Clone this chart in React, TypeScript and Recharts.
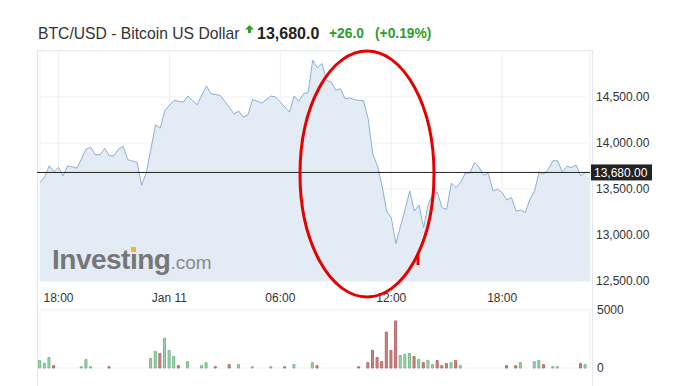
import React from 'react'
import {
  ComposedChart,
  Area,
  XAxis,
  YAxis,
  CartesianGrid,
  ReferenceLine,
  BarChart,
  Bar,
  Cell,
} from 'recharts'

const FONT = '"Liberation Sans", Arial, sans-serif'
const GREEN = '#2d9d2d'

// hours counted from Jan 10 00:00 (15 minute bars)
const priceHours = [
  17, 17.25, 17.5, 17.75, 18, 18.25, 18.5, 19, 19.5, 19.75, 20, 20.25, 20.5, 20.75, 21, 21.25,
  21.5, 21.75, 22.25, 22.5, 22.75, 23, 23.25, 23.5, 23.75, 24.25, 24.75, 25, 25.5, 26, 26.25,
  26.75, 27.5, 27.75, 28, 28.25, 28.5, 29, 29.5, 29.75, 30.5, 30.75, 31, 31.25, 31.5, 31.75, 32,
  32.25, 32.5, 32.75, 33, 33.25, 33.5, 33.75, 34, 34.25, 34.5, 34.75, 35, 35.25, 35.5, 35.75, 36,
  36.25, 36.5, 36.75, 37, 37.25, 37.5, 37.75, 38, 38.25, 38.5, 38.75, 39, 39.25, 39.5, 39.75, 40,
  40.25, 40.5, 40.75, 41, 41.25, 41.5, 41.75, 42, 42.25, 42.5, 42.75, 43, 43.25, 43.5, 43.75, 44,
  44.25, 44.5, 44.75, 45, 45.25, 45.5, 45.75, 46, 46.25, 46.5, 46.75,
]
const priceValues = [
  13571, 13629, 13752, 13687, 13735, 13643, 13752, 13727, 13935, 13953, 13872, 13872, 13942, 13861,
  13861, 13935, 13964, 13818, 13789, 13541, 13680, 13935, 14197, 14161, 14353, 14463, 14445, 14511,
  14416, 14620, 14536, 14517, 14317, 14347, 14281, 14306, 14474, 14434, 14511, 14500, 14336, 14511,
  14452, 14536, 14547, 14900, 14817, 14864, 14681, 14664, 14572, 14590, 14481, 14489, 14473, 14463,
  14459, 14263, 13880, 13752, 13534, 13260, 13188, 12907, 13096, 13279, 13479, 13260, 13326, 13079,
  13334, 13454, 13461, 13297, 13279, 13563, 13516, 13571, 13672, 13672, 13789, 13735, 13650, 13672,
  13479, 13497, 13461, 13380, 13407, 13260, 13271, 13243, 13388, 13479, 13687, 13661, 13716, 13807,
  13807, 13687, 13746, 13735, 13760, 13643, 13680, 13680,
]

const volumeHours = [
  17, 17.25, 17.5, 17.75, 19.25, 19.5, 19.75, 20.75, 23, 23.25, 23.5, 23.75, 24, 24.25, 24.5, 25,
  25.75, 26, 26.5, 27.25, 27.75, 28.5, 29.5, 30.25, 30.75, 31.75, 32, 34.25, 34.75, 35, 35.25, 35.5,
  35.75, 36, 36.25, 36.5, 36.75, 37, 37.25, 37.5, 37.75, 38, 38.25, 38.5, 38.75, 39, 39.25, 39.5,
  39.75, 42.25, 42.75, 43, 43.75, 44, 44.25, 44.75, 45, 46.25, 46.5,
]
const volumeValues = [
  640, 410, 900, 200, 110, 730, 110, 110, 820, 1430, 1250, 2570, 1520, 990, 200, 550, 200, 460, 110,
  290, 290, 110, 110, 110, 290, 460, 200, 110, 460, 1520, 900, 550, 3100, 1520, 4060, 1080, 1170,
  1250, 990, 730, 460, 640, 290, 640, 200, 380, 460, 640, 200, 200, 200, 460, 550, 640, 290, 110,
  110, 380, 290,
]
const volumeUp = [
  1, 1, 1, 0, 1, 1, 1, 0, 1, 1, 0, 1, 1, 1, 0, 1, 1, 1, 0, 0, 1, 1, 1, 0, 1, 1, 0, 0, 0, 0, 0, 0, 0,
  0, 0, 1, 1, 1, 0, 1, 0, 1, 1, 0, 0, 0, 1, 0, 1, 0, 0, 1, 1, 1, 0, 1, 1, 0, 1,
]

const timeTicks = [18, 24, 30, 36, 42]
const timeLabels = ['18:00', 'Jan 11', '06:00', '12:00', '18:00']
const priceTicks = [12500, 13000, 13500, 14000, 14500]
const volumeTicks = [0, 5000]
const lastPrice = 13680

const priceData = priceHours.map((t, i) => ({ t, price: priceValues[i] }))
const volumeData = volumeHours.map((t, i) => ({ t, vol: volumeValues[i], up: volumeUp[i] === 1 }))

const fmtPrice = (v: number) =>
  v.toLocaleString('en-US', { minimumFractionDigits: 2, maximumFractionDigits: 2 })
const fmtTime = (v: number) => timeLabels[timeTicks.indexOf(v)] ?? ''

const tickStyle = { fontSize: 12, fill: '#333', fontFamily: FONT }

function PriceTag(props: any) {
  const vb = props.viewBox || {}
  const right = vb.x + vb.width
  return (
    <g>
      <line x1={vb.x - 3} x2={vb.x} y1={vb.y} y2={vb.y} stroke="#222" />
      <rect x={right + 1} y={vb.y - 8} width={61} height={16} fill="#222" />
      <text x={right + 4} y={vb.y + 4.5} fill="#fff" fontSize={12} fontFamily={FONT}>
        {fmtPrice(lastPrice)}
      </text>
    </g>
  )
}

function Header() {
  const base = { position: 'absolute' as const, lineHeight: 1, whiteSpace: 'nowrap' as const }
  return (
    <>
      <span style={{ ...base, left: 38, top: 25.7, fontSize: 15.7, color: '#333' }}>
        BTC/USD - Bitcoin US Dollar
      </span>
      <svg style={{ position: 'absolute', left: 245, top: 25 }} width={9} height={8}>
        <polygon points="4.5,0 9,4.5 6,4.5 6,8 3,8 3,4.5 0,4.5" fill={GREEN} />
      </svg>
      <span style={{ ...base, left: 257, top: 25.5, fontSize: 16, fontWeight: 'bold', color: '#222' }}>
        13,680.0
      </span>
      <span style={{ ...base, left: 329, top: 27.3, fontSize: 13.8, fontWeight: 'bold', color: GREEN }}>
        +26.0
      </span>
      <span style={{ ...base, left: 375, top: 27.3, fontSize: 13.8, fontWeight: 'bold', color: GREEN }}>
        (+0.19%)
      </span>
    </>
  )
}

function Watermark() {
  return (
    <div
      style={{
        position: 'absolute',
        left: 52,
        top: 246,
        lineHeight: 1,
        whiteSpace: 'nowrap',
        fontFamily: FONT,
      }}
    >
      <span style={{ fontSize: 28, fontWeight: 'bold', color: '#777', letterSpacing: -0.5 }}>
        Invest
        <span style={{ position: 'relative' }}>
          ı
          <span
            style={{
              position: 'absolute',
              left: 1.5,
              top: 3,
              width: 5,
              height: 5,
              background: '#e8b44c',
            }}
          />
        </span>
        ng
      </span>
      <span style={{ fontSize: 19, color: '#8a8a8a' }}>.com</span>
    </div>
  )
}

export default function App() {
  return (
    <div
      style={{
        position: 'absolute',
        left: 0,
        top: 0,
        width: 677,
        height: 386,
        background: '#fff',
        overflow: 'hidden',
        fontFamily: FONT,
      }}
    >
      <Header />
      <div
        style={{
          position: 'absolute',
          left: 37,
          top: 50,
          width: 554,
          height: 345,
          border: '1px solid #e3e7ed',
        }}
      />
      <div style={{ position: 'absolute', left: 0, top: 0 }}>
        <ComposedChart
          width={677}
          height={310}
          data={priceData}
          margin={{ top: 51, right: 0, bottom: 0, left: 40 }}
        >
          <CartesianGrid stroke="#eef1f5" />
          <XAxis
            dataKey="t"
            type="number"
            domain={[17, 46.75]}
            ticks={timeTicks}
            tickFormatter={fmtTime}
            axisLine={false}
            tickLine={false}
            tickSize={0}
            tickMargin={12}
            height={29}
            tick={tickStyle}
            interval={0}
          />
          <YAxis
            orientation="right"
            type="number"
            domain={[12500, 15000]}
            ticks={priceTicks}
            tickFormatter={fmtPrice}
            axisLine={false}
            tickLine={false}
            tickSize={0}
            tickMargin={6}
            width={87}
            tick={tickStyle}
            interval={0}
          />
          <Area
            type="linear"
            dataKey="price"
            stroke="#8cb0d4"
            strokeWidth={1}
            fill="#e3ebf4"
            fillOpacity={1}
            dot={false}
            activeDot={false}
            isAnimationActive={false}
          />
          <ReferenceLine y={lastPrice} stroke="#222" strokeWidth={1} label={<PriceTag />} />
        </ComposedChart>
      </div>
      <Watermark />
      <div style={{ position: 'absolute', left: 0, top: 300 }}>
        <BarChart
          width={677}
          height={86}
          data={volumeData}
          margin={{ top: 10, right: 0, bottom: 18, left: 40 }}
        >
          <CartesianGrid stroke="#eef1f5" />
          <XAxis
            dataKey="t"
            type="number"
            domain={[17, 46.75]}
            ticks={timeTicks}
            tick={false}
            axisLine={false}
            tickLine={false}
            height={0}
          />
          <YAxis
            orientation="right"
            type="number"
            domain={[0, 5000]}
            ticks={volumeTicks}
            axisLine={false}
            tickLine={false}
            tickSize={0}
            tickMargin={7}
            width={87}
            tick={tickStyle}
            interval={0}
          />
          <Bar dataKey="vol" barSize={2} strokeWidth={1} isAnimationActive={false}>
            {volumeData.map((d, i) => (
              <Cell
                key={i}
                fill={d.up ? '#a3d5b1' : '#cf8585'}
                stroke={d.up ? '#74b887' : '#b96868'}
              />
            ))}
          </Bar>
        </BarChart>
      </div>
      <svg
        style={{ position: 'absolute', left: 0, top: 0, pointerEvents: 'none' }}
        width={677}
        height={386}
      >
        <ellipse cx={367} cy={174} rx={67} ry={123} fill="none" stroke="#e60000" strokeWidth={3} />
        <line x1={418} y1={254} x2={418} y2={265} stroke="#e60000" strokeWidth={3} />
      </svg>
    </div>
  )
}
